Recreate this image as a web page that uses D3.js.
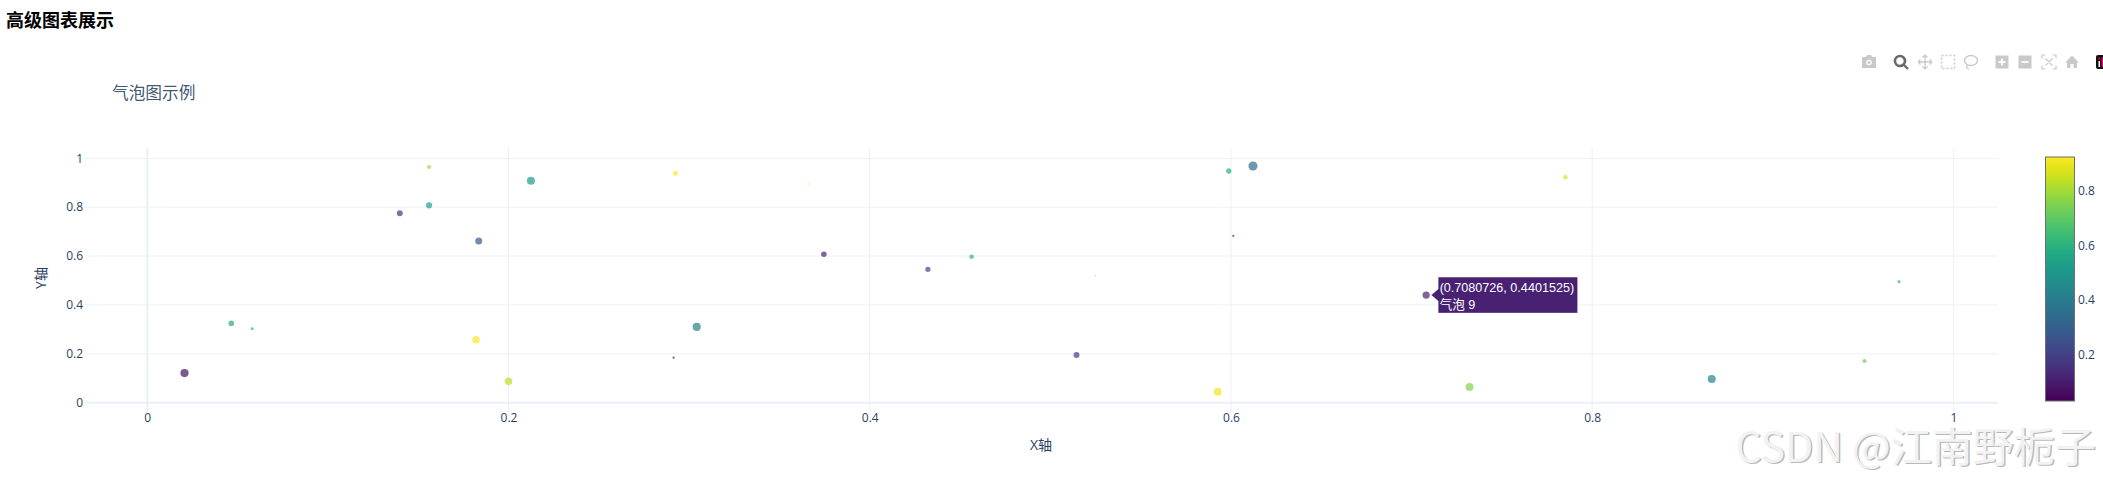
<!DOCTYPE html>
<html><head><meta charset="utf-8">
<script src="https://cdnjs.cloudflare.com/ajax/libs/d3/7.8.5/d3.min.js"></script>
<style>html,body{margin:0;padding:0;background:#fff;overflow:hidden}svg{display:block}</style>
</head><body><svg id="c" width="2103" height="484"></svg>
<script>
const xValues=[.1560,.2124,.2924,.1560,.1398,.1835,.0465,.0581,.1820,.2,.0206,.2914,.3042,.3665,.3746,.4322,.4564,.5248,.5988,.6122,.6013,.5145,.5926,.7080726,.7321,.8662,.9508,.9699,.7852];
const yValues=[.964,.908,.9385,.8075,.775,.6615,.325,.303,.258,.0875,.1215,.184,.31,.895,.607,.5457,.597,.5197,.948,.9685,.683,.195,.045,.4401525,.064,.097,.1706,.495,.922];
const colorValues=[.80,.52,.93,.54,.17,.28,.58,.58,.93,.83,.07,.08,.42,.88,.12,.22,.62,.75,.6,.33,.08,.18,.91,.11,.75,.42,.72,.62,.87];
const sizeValues=[.2,.76,.3,.45,.42,.58,.38,.1,.66,.68,.8,.06,.78,.03,.36,.32,.26,.02,.34,.98,.06,.42,.76,.62,.74,.78,.2,.12,.24];
const xTicks=[0,.2,.4,.6,.8,1];
const yTicks=[0,.2,.4,.6,.8,1];
const cbTicks=[.2,.4,.6,.8];
const pageTitle="高级图表展示", chartTitle="气泡图示例", xTitle="X轴", yTitle="Y轴", mark="CSDN @江南野栀子";
const hoverIndex=23, hoverLines=["(0.7080726, 0.4401525)","气泡 9"];

const FONT='"Open Sans","Noto Sans CJK SC",sans-serif', CJK='"Noto Sans CJK SC","Noto Sans",sans-serif', HOV='"Liberation Sans","Noto Sans CJK SC",sans-serif';
const INK="#2a3f5f", GRID="#ebf0f8";
const svg=d3.select("#c");
const x=d3.scaleLinear().domain([-.0345,1.0247]).range([85,1998]);
const y=d3.scaleLinear().domain([-.038,1.042]).range([412,148]);
const color=d3.scaleSequential(d3.interpolateViridis).domain([.028,.925]);
const r=d3.scaleSqrt().domain([0,1]).range([0,4.6]);
const fmt=d=>d===0?"0":d===1?"1":d3.format(".1f")(d);

svg.append("text").attr("x",6).attr("y",27).attr("font-family",CJK).attr("font-size",18).attr("font-weight",700).attr("fill","#000").text(pageTitle);
svg.append("text").attr("x",112).attr("y",99).attr("font-family",CJK).attr("font-size",16.7).attr("fill",INK).attr("fill-opacity",.9).text(chartTitle);

// grid
const g=svg.append("g");
g.selectAll("line.gx").data(xTicks).join("line").attr("x1",d=>x(d)).attr("x2",d=>x(d)).attr("y1",148).attr("y2",412)
 .attr("stroke",GRID).attr("stroke-width",d=>d===0?2:1);
g.selectAll("line.gy").data(yTicks).join("line").attr("x1",85).attr("x2",1998).attr("y1",d=>y(d)).attr("y2",d=>y(d))
 .attr("stroke",GRID).attr("stroke-width",d=>d===0?2:1);

// axes
const ax=svg.append("g").attr("transform","translate(0,412)").call(d3.axisBottom(x).tickValues(xTicks).tickFormat(fmt).tickSize(0).tickPadding(1));
ax.select(".domain").remove();
ax.selectAll("text").attr("font-family",FONT).attr("font-size",12).attr("fill",INK).attr("dy","0.78em");
const ay=svg.append("g").attr("transform","translate(83,0)").call(d3.axisLeft(y).tickValues(yTicks).tickFormat(fmt).tickSize(0).tickPadding(0));
ay.select(".domain").remove();
ay.selectAll("text").attr("font-family",FONT).attr("font-size",12).attr("fill",INK);
svg.append("text").attr("x",1041).attr("y",450).attr("text-anchor","middle").attr("font-family",FONT).attr("font-size",14).attr("fill",INK).text(xTitle);
svg.append("text").attr("transform","translate(46,278) rotate(-90)").attr("text-anchor","middle").attr("font-family",FONT).attr("font-size",14).attr("fill",INK).text(yTitle);

// points
svg.append("g").selectAll("circle").data(xValues.map((v,i)=>i)).join("circle")
 .attr("cx",i=>x(xValues[i])).attr("cy",i=>y(yValues[i])).attr("r",i=>r(sizeValues[i]))
 .attr("fill",i=>color(colorValues[i])).attr("fill-opacity",.7);

// colorbar
const cbY=d3.scaleLinear().domain([.028,.925]).range([401,157]);
const lg=svg.append("defs").append("linearGradient").attr("id","vir").attr("x1",0).attr("x2",0).attr("y1",1).attr("y2",0);
d3.range(0,1.001,.05).forEach(t=>lg.append("stop").attr("offset",t).attr("stop-color",d3.interpolateViridis(t)));
svg.append("rect").attr("x",2045.5).attr("y",157).attr("width",29).attr("height",244).attr("fill","url(#vir)").attr("stroke","#6f6f6f").attr("stroke-width",1);
const ac=svg.append("g").attr("transform","translate(2077,0)").call(d3.axisRight(cbY).tickValues(cbTicks).tickFormat(fmt).tickSize(0).tickPadding(1));
ac.select(".domain").remove();
ac.selectAll("text").attr("font-family",FONT).attr("font-size",12).attr("fill",INK);

// hover label
const hx=x(xValues[hoverIndex]), hy=y(yValues[hoverIndex]), hc=color(colorValues[hoverIndex]);
const hov=svg.append("g").attr("transform",`translate(${hx},${hy})`);
hov.append("path").attr("d","M5,0L12,-6V-18H151.5V18H12V6Z").attr("fill",hc).attr("stroke","#fff").attr("stroke-opacity",.45).attr("stroke-width",1);
hov.selectAll("text").data(hoverLines).join("text").attr("x",13.5).attr("y",(d,i)=>-3+i*16.5)
 .attr("font-family",HOV).attr("font-size",12.6).attr("fill","#fff").text(d=>d);

// mode bar
const bar=svg.append("g");
const LG="#c9c9c9", ON="#6a6a6a", cy=62;
const at=px=>bar.append("g").attr("transform",`translate(${px},${cy})`);
let i=at(1869); i.append("path").attr("d","M-7,-5H-3.5L-2,-7H2L3.5,-5H7V6H-7Z").attr("fill",LG); i.append("circle").attr("r",2.8).attr("cy",.5).attr("fill","#fff"); i.append("circle").attr("r",1.5).attr("cy",.5).attr("fill",LG);
i=at(1901); i.append("circle").attr("r",5).attr("cx",-1).attr("cy",-1).attr("fill","none").attr("stroke",ON).attr("stroke-width",2.6); i.append("line").attr("x1",3).attr("y1",3).attr("x2",7).attr("y2",7).attr("stroke",ON).attr("stroke-width",2.4);
i=at(1925); i.append("path").attr("d","M-7,0H7M0,-7V7M-7,0l2.5,-2.5M-7,0l2.5,2.5M7,0l-2.5,-2.5M7,0l-2.5,2.5M0,-7l-2.5,2.5M0,-7l2.5,2.5M0,7l-2.5,-2.5M0,7l2.5,-2.5").attr("fill","none").attr("stroke",LG).attr("stroke-width",1.3);
i=at(1948); i.append("rect").attr("x",-6.5).attr("y",-6.5).attr("width",13).attr("height",13).attr("fill","none").attr("stroke",LG).attr("stroke-width",1.5).attr("stroke-dasharray","2 2");
i=at(1971); i.append("ellipse").attr("rx",6.5).attr("ry",5).attr("cy",-1.5).attr("fill","none").attr("stroke",LG).attr("stroke-width",1.4); i.append("path").attr("d","M-4,3C-5,6 -3,7 -2,7").attr("fill","none").attr("stroke",LG).attr("stroke-width",1.4);
i=at(2002); i.append("rect").attr("x",-6.5).attr("y",-6.5).attr("width",13).attr("height",13).attr("fill",LG); i.append("path").attr("d","M-3.5,0H3.5M0,-3.5V3.5").attr("stroke","#fff").attr("stroke-width",1.8);
i=at(2025); i.append("rect").attr("x",-6.5).attr("y",-6.5).attr("width",13).attr("height",13).attr("fill",LG); i.append("path").attr("d","M-3.5,0H3.5").attr("stroke","#fff").attr("stroke-width",1.8);
i=at(2049); i.append("path").attr("d","M-7,-3.5V-7H-3.5M3.5,-7H7V-3.5M7,3.5V7H3.5M-3.5,7H-7V3.5M-3.5,-3.5L3.5,3.5M3.5,-3.5L-3.5,3.5").attr("fill","none").attr("stroke",LG).attr("stroke-width",1.2);
i=at(2072); i.append("path").attr("d","M0,-6.5L7,0.5H5V6H1.5V2H-1.5V6H-5V0.5H-7Z").attr("fill",LG);
i=at(2096); i.append("rect").attr("x",0).attr("y",-7).attr("width",12).attr("height",14).attr("rx",2).attr("fill","#111");
i.append("rect").attr("x",2.5).attr("y",-4.5).attr("width",1.5).attr("height",2).attr("fill","#e6007a"); i.append("rect").attr("x",2.5).attr("y",-1).attr("width",1.5).attr("height",6).attr("fill","#fff");
i.append("rect").attr("x",5.5).attr("y",-4.5).attr("width",1.5).attr("height",9.5).attr("fill","#e6007a");

// watermark
const wm=svg.append("g").attr("font-family",CJK).attr("font-size",41);
wm.append("text").attr("x",1737).attr("y",463).attr("fill","#9a9a9a").attr("fill-opacity",.7).text(mark);
wm.append("text").attr("x",1735.5).attr("y",462).attr("fill","#f2f2f2").text(mark);
</script></body></html>
